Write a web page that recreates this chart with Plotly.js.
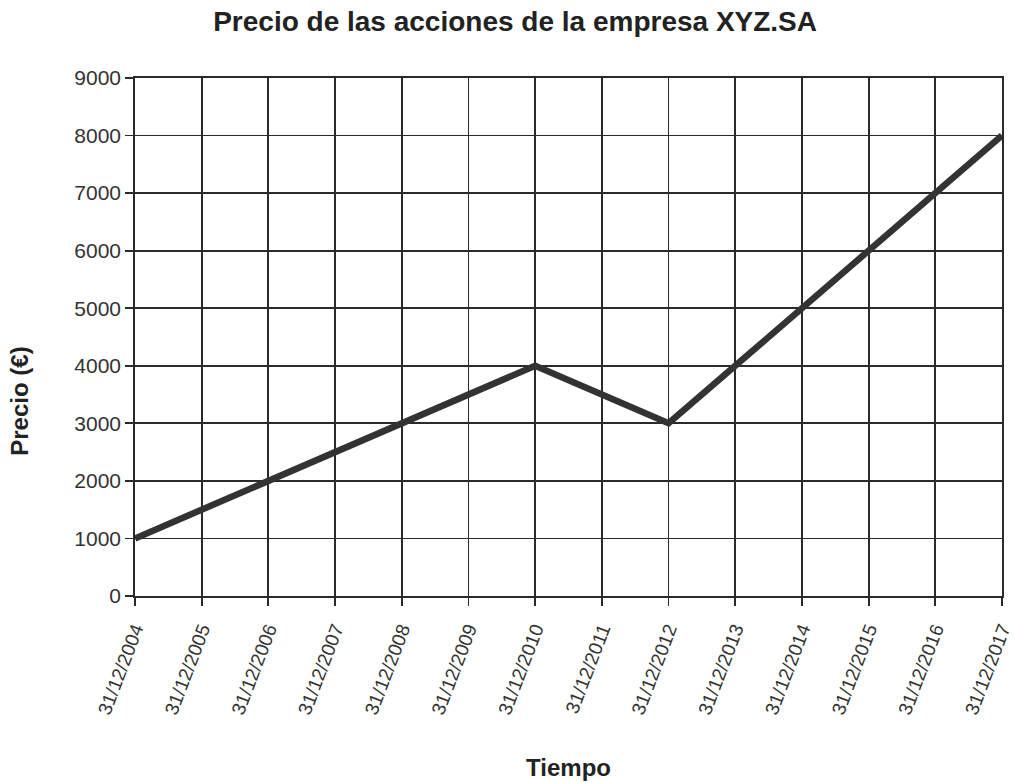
<!DOCTYPE html>
<html><head><meta charset="utf-8">
<script src="https://cdn.plot.ly/plotly-3.0.1.min.js"></script>
<style>html,body{margin:0;padding:0;background:#fff}</style>
</head><body><div id="chart" style="width:1014px;height:782px"></div>
<script>
const fechas = ["31/12/2004","31/12/2005","31/12/2006","31/12/2007","31/12/2008","31/12/2009","31/12/2010","31/12/2011","31/12/2012","31/12/2013","31/12/2014","31/12/2015","31/12/2016","31/12/2017"];
const precios = [1000,1500,2000,2500,3000,3500,4000,3500,3000,4000,5000,6000,7000,8000];
const tituloY = '<b>Precio (€)</b>';

Plotly.newPlot('chart', [{
  x: fechas, y: precios, type: 'scatter', mode: 'lines',
  line: {color: '#333333', width: 6.5}, hoverinfo: 'skip'
}], {
  width: 1014, height: 782,
  margin: {l: 135, r: 12, t: 78, b: 186},
  paper_bgcolor: '#fff', plot_bgcolor: '#fff',
  font: {family: 'Liberation Sans, Arial, sans-serif', color: '#333'},
  title: {text: '<b>Precio de las acciones de la empresa XYZ.SA</b>', x: 0.508, xanchor: 'center', y: 0.973, yanchor: 'middle', font: {size: 28, color: '#222'}},
  showlegend: false,
  xaxis: {
    type: 'category', range: [0, 13], tickangle: -69,
    showgrid: true, gridcolor: '#2a2a2a', gridwidth: 1.8,
    ticks: 'outside', ticklen: 8, tickcolor: '#2a2a2a', tickwidth: 1.8,
    showline: true, linecolor: '#2a2a2a', linewidth: 1.8, mirror: true,
    tickfont: {size: 19, color: '#333'}, ticklabelstandoff: 5,
    title: {text: '<b>Tiempo</b>', font: {size: 24, color: '#222'}, standoff: 42}
  },
  yaxis: {
    range: [0, 9000], dtick: 1000,
    showgrid: true, gridcolor: '#2a2a2a', gridwidth: 1.8, zeroline: false,
    ticks: 'outside', ticklen: 8, tickcolor: '#2a2a2a', tickwidth: 1.8,
    showline: true, linecolor: '#2a2a2a', linewidth: 1.8, mirror: true,
    tickfont: {size: 21, color: '#333'}
  },
  annotations: [{
    text: tituloY, textangle: -90, xref: 'paper', yref: 'paper',
    x: 0, xshift: -115, y: 0.375, xanchor: 'center', yanchor: 'middle',
    showarrow: false, font: {size: 24, color: '#222'}
  }]
}, {staticPlot: true});
</script></body></html>
